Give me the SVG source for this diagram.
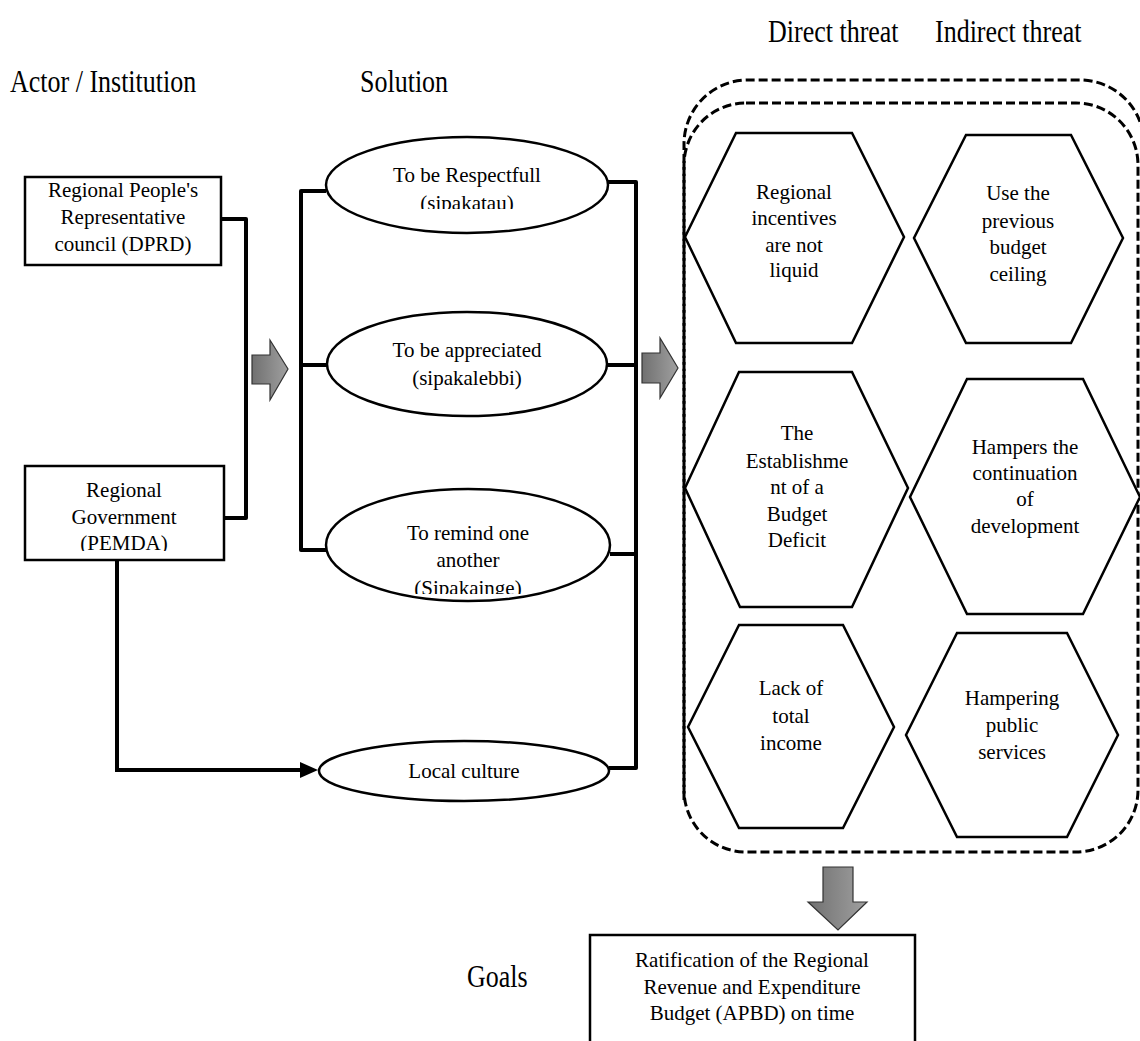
<svg xmlns="http://www.w3.org/2000/svg" width="1140" height="1041" viewBox="0 0 1140 1041">
<style>
text{font-family:"Liberation Serif","Times New Roman",serif;fill:#000;}
.h{font-size:26px;}
.t{font-size:21px;text-anchor:middle;}
.box{fill:#fff;stroke:#000;stroke-width:2.5;}
.hex{fill:#fff;stroke:#000;stroke-width:2.5;stroke-linejoin:miter;}
.con{fill:none;stroke:#000;stroke-width:4;stroke-linejoin:round;}
.dash{fill:none;stroke:#000;stroke-width:3;stroke-dasharray:9 4;}
.blk{fill:url(#g);stroke:#333;stroke-width:1.2;}
</style>
<defs>
<linearGradient id="g" x1="0" y1="0" x2="1" y2="0">
<stop offset="0" stop-color="#707070"/>
<stop offset="1" stop-color="#a0a0a0"/>
</linearGradient>
<clipPath id="c1"><rect x="0" y="0" width="1140" height="551"/></clipPath>
<clipPath id="c2"><rect x="0" y="0" width="1140" height="209"/></clipPath>
<clipPath id="c3"><rect x="0" y="0" width="1140" height="594"/></clipPath>
</defs>

<g id="headers">
<text class="h" transform="translate(768,42) scale(1,1.2)">Direct threat</text>
<text class="h" transform="translate(935,42) scale(1,1.2)">Indirect threat</text>
<text class="h" transform="translate(10,92) scale(1,1.2)">Actor / Institution</text>
<text class="h" transform="translate(360,92) scale(1,1.2)">Solution</text>
<text class="h" transform="translate(467,987) scale(1,1.2)">Goals</text>
</g>

<g id="group-box">
<path class="dash" d="M684,800 L684,144 A64,64 0 0 1 748,80 L1080,80 A64,64 0 0 1 1144,144 L1144,900"/>
<rect class="dash" x="684" y="103" width="454" height="749" rx="62"/>
</g>

<g id="connectors">
<path class="con" d="M221,219 L246,219 L246,518 L224,518"/>
<path class="con" d="M326,191 L301,191 L301,550 L326,550"/>
<path class="con" d="M328,365 L301,365"/>
<path class="con" d="M608,182 L636,182 L636,768 L609,768"/>
<path class="con" d="M607,365 L636,365"/>
<path class="con" d="M610,554 L636,554"/>
<path fill="none" stroke="#000" stroke-width="4" d="M117,560 L117,770 L306,770"/>
<path d="M300,762 L318,770 L300,778 z" fill="#000"/>
<path class="blk" d="M252,355 L270,355 L270,340 L288,369 L270,400 L270,384 L252,384 z"/>
<path class="blk" d="M642,353 L660,353 L660,338 L678,368 L660,398 L660,383 L642,383 z"/>
<path class="blk" d="M823,867 L853,867 L853,902 L867,902 L838,930 L808,902 L823,902 z"/>
</g>

<g id="dprd">
<rect class="box" x="25" y="177" width="196" height="88"/>
<text class="t" x="123" y="197">Regional People's</text>
<text class="t" x="123" y="224">Representative</text>
<text class="t" x="123" y="251">council (DPRD)</text>
</g>

<g id="pemda">
<rect class="box" x="25" y="466" width="199" height="94"/>
<g clip-path="url(#c1)">
<text class="t" x="124" y="497">Regional</text>
<text class="t" x="124" y="524">Government</text>
<text class="t" x="124" y="550">(PEMDA)</text>
</g>
</g>

<g id="sipakatau">
<ellipse class="box" cx="467" cy="185" rx="141" ry="48"/>
<text class="t" x="467" y="182">To be Respectfull</text>
<g clip-path="url(#c2)"><text class="t" x="467" y="210">(sipakatau)</text></g>
</g>

<g id="sipakalebbi">
<ellipse class="box" cx="467" cy="364" rx="140" ry="52"/>
<text class="t" x="467" y="357">To be appreciated</text>
<text class="t" x="467" y="385">(sipakalebbi)</text>
</g>

<g id="sipakainge">
<ellipse class="box" cx="468" cy="545" rx="142" ry="56"/>
<text class="t" x="468" y="540">To remind one</text>
<text class="t" x="468" y="567">another</text>
<g clip-path="url(#c3)"><text class="t" x="468" y="595">(Sipakainge)</text></g>
</g>

<g id="local-culture">
<ellipse class="box" cx="464" cy="771" rx="145" ry="30"/>
<text class="t" x="464" y="778">Local culture</text>
</g>

<g id="h1">
<polygon class="hex" points="736,133 852,133 904,237 852,343 736,343 685,237"/>
<text class="t" x="794" y="199">Regional</text>
<text class="t" x="794" y="225">incentives</text>
<text class="t" x="794" y="252">are not</text>
<text class="t" x="794" y="277">liquid</text>
</g>

<g id="h2">
<polygon class="hex" points="966,135 1071,135 1123,238 1071,343 966,343 914,238"/>
<text class="t" x="1018" y="200">Use the</text>
<text class="t" x="1018" y="228">previous</text>
<text class="t" x="1018" y="254">budget</text>
<text class="t" x="1018" y="281">ceiling</text>
</g>

<g id="h3">
<polygon class="hex" points="739,372 852,372 908,488 852,607 740,607 685,488"/>
<text class="t" x="797" y="440">The</text>
<text class="t" x="797" y="468">Establishme</text>
<text class="t" x="797" y="494">nt of a</text>
<text class="t" x="797" y="521">Budget</text>
<text class="t" x="797" y="547">Deficit</text>
</g>

<g id="h4">
<polygon class="hex" points="967,379 1083,379 1140,497 1083,614 967,614 910,497"/>
<text class="t" x="1025" y="454">Hampers the</text>
<text class="t" x="1025" y="480">continuation</text>
<text class="t" x="1025" y="506">of</text>
<text class="t" x="1025" y="533">development</text>
</g>

<g id="h5">
<polygon class="hex" points="739,625 843,625 894,727 843,828 739,828 688,727"/>
<text class="t" x="791" y="695">Lack of</text>
<text class="t" x="791" y="723">total</text>
<text class="t" x="791" y="750">income</text>
</g>

<g id="h6">
<polygon class="hex" points="957,633 1067,633 1118,735 1067,837 957,837 906,735"/>
<text class="t" x="1012" y="705">Hampering</text>
<text class="t" x="1012" y="732">public</text>
<text class="t" x="1012" y="759">services</text>
</g>

<g id="goal">
<path class="box" d="M590,1045 L590,935 L915,935 L915,1045"/>
<text class="t" x="752" y="967">Ratification of the Regional</text>
<text class="t" x="752" y="994">Revenue and Expenditure</text>
<text class="t" x="752" y="1020">Budget (APBD)  on time</text>
</g>
</svg>
